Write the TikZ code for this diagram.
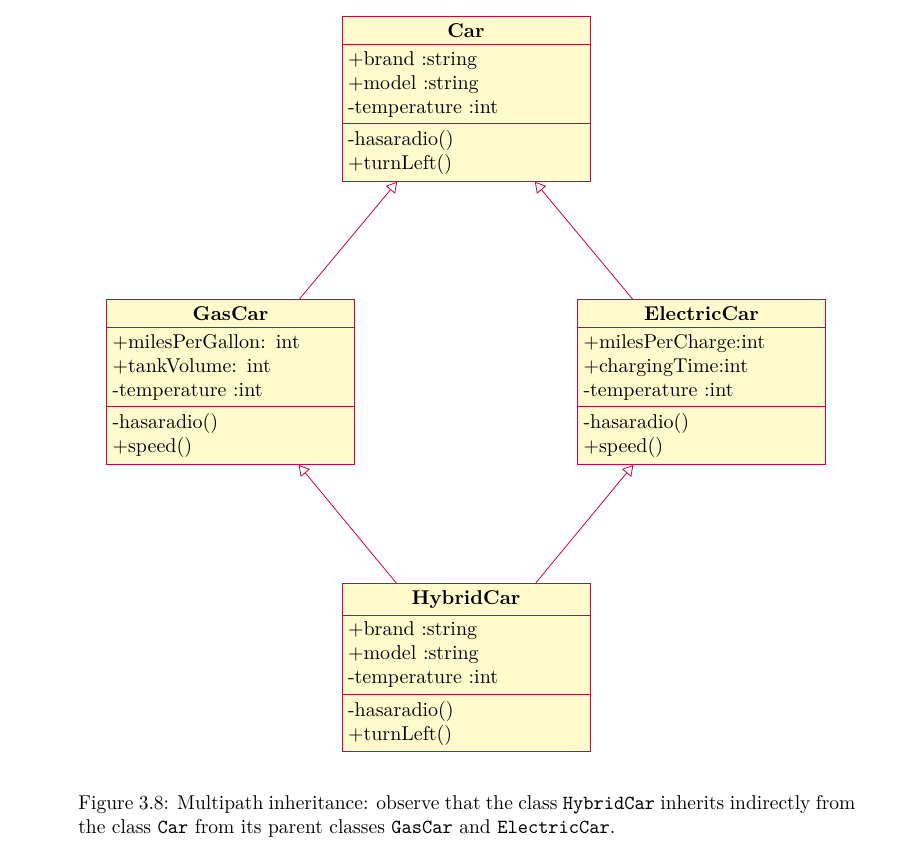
\documentclass[tikz,border=0pt]{standalone}
\usepackage{xcolor}
\usepackage{tikz}
\usetikzlibrary{arrows,positioning,shapes.multipart}
\usepackage{amssymb,amsmath}
\definecolor{umlred}{RGB}{204,0,68}
\definecolor{umlfill}{RGB}{255,251,204}
\newcommand{\classname}[1]{\hspace*{\fill}\textbf{#1}\hspace*{\fill}\null}

\begin{document}
\begin{tikzpicture}[x=0.5pt,y=-0.5pt,->,>=open triangle 60,shorten >=0pt,
    node distance=141.5pt and 117.75pt,on grid,
    class node/.style={rectangle split,rectangle split parts=3,draw=umlred,
      fill=umlfill,text width=118pt,inner xsep=3pt,inner ysep=3.2pt,align=left}]
    \useasboundingbox (0,0) rectangle (909,851);
    \node[class node] (car) at (466,99) {\classname{Car}
      \nodepart{second}+brand :string\\+model :string\\-temperature :int
      \nodepart{third}-hasaradio()\\+turnLeft()};
    \node[class node] (gas_car) [below left=of car] {\classname{GasCar}
      \nodepart{second}+milesPerGallon: int\\+tankVolume: int\\-temperature :int
      \nodepart{third}-hasaradio()\\+speed()};
    \node[class node] (electric_car) [below right=of car] {\classname{ElectricCar}
      \nodepart{second}+milesPerCharge:int\\+chargingTime:int\\-temperature :int
      \nodepart{third}-hasaradio()\\+speed()};
    \node[class node] (hybrid_car) [below right=142.8pt and 117.75pt of gas_car] {\classname{HybridCar}
      \nodepart{second}+brand :string\\+model :string\\-temperature :int
      \nodepart{third}-hasaradio()\\+turnLeft()};
    % caption is set a little narrower, as in the figure
    \node[anchor=north west,inner sep=0pt] (caption) at (78,795)
      {\scalebox{0.975}[1]{\parbox[t]{398.5pt}{Figure 3.8: Multipath inheritance: observe that
      the class \texttt{HybridCar} inherits indirectly from\linebreak the class \texttt{Car} from
      its parent classes \texttt{GasCar} and \texttt{ElectricCar}.}}};
    \path[draw=umlred]
    (gas_car) edge (car)
    (electric_car) edge (car)
    (hybrid_car) edge (gas_car)
    (hybrid_car) edge (electric_car);
  \end{tikzpicture}
\end{document}
